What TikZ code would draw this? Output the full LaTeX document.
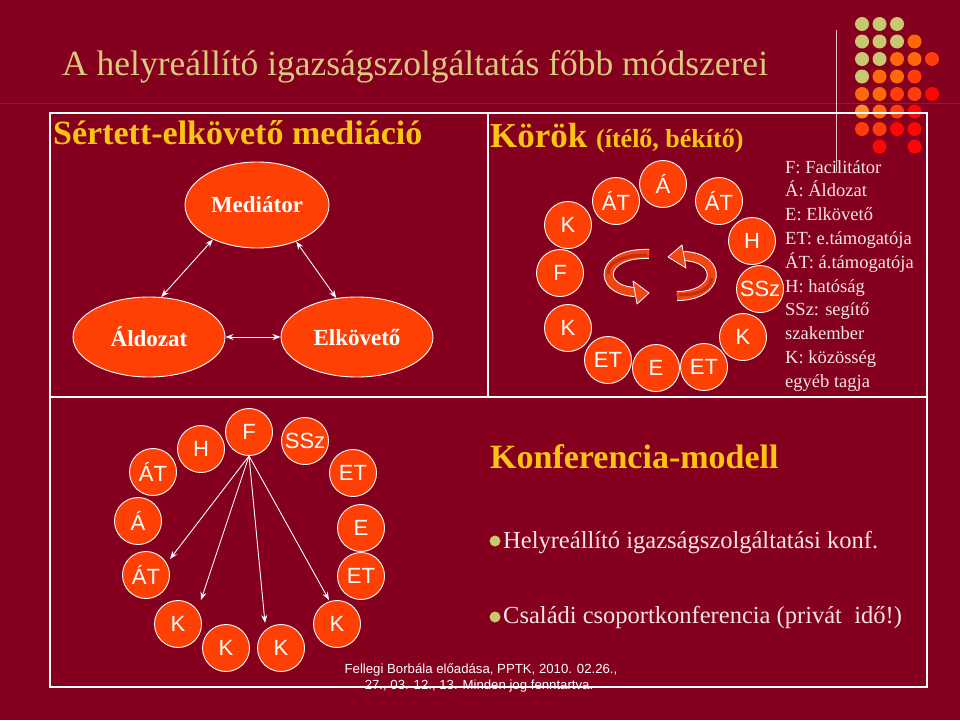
\documentclass[tikz,border=0pt]{standalone}
\usepackage{fontspec}
\setmainfont{Liberation Serif}
\newfontfamily\arialf{Liberation Sans}
\usetikzlibrary{arrows.meta,shapes.geometric}
\definecolor{bg}{RGB}{132,0,30}
\definecolor{khaki}{RGB}{218,202,125}
\definecolor{gold}{RGB}{250,196,20}
\definecolor{circ}{RGB}{255,64,5}
\definecolor{pinkw}{RGB}{245,230,230}
\definecolor{dG}{RGB}{200,200,112}
\definecolor{dO}{RGB}{255,104,10}
\definecolor{dL}{RGB}{255,140,40}
\definecolor{dR}{RGB}{255,60,10}
\definecolor{dD}{RGB}{250,8,8}
\definecolor{ribbon}{RGB}{240,70,20}
\definecolor{ribbondark}{RGB}{200,45,10}
\definecolor{faint}{RGB}{150,24,48}
\definecolor{vline}{RGB}{225,195,200}
\begin{document}
\begin{tikzpicture}[x=1pt,y=-1pt,
  lt/.style={circle, fill=circ, draw=white, line width=0.9pt, minimum size=47pt, inner sep=0pt, text=white, font=\arialf\fontsize{22}{22}\selectfont},
  ell/.style={ellipse, fill=circ, draw=white, line width=0.9pt, inner sep=0pt, text=white, font=\bfseries\fontsize{23}{23}\selectfont},
  dot/.style={circle, inner sep=0pt, minimum size=14pt},
  wa/.style={white, line width=0.9pt, -{Stealth[length=8pt,width=6pt]}},
  dwa/.style={white, line width=0.9pt, {Stealth[length=8pt,width=6pt]}-{Stealth[length=8pt,width=6pt]}},
  framel/.style={white, line width=2pt},
  leg/.style={text=pinkw, font=\fontsize{18.5}{20}\selectfont, anchor=base west, inner sep=0pt},
  ribbonline/.style={ribbon, line width=8pt},
  ribbonedge/.style={white, line width=10pt},
  ribbonhead/.style={fill=ribbon, draw=white, line width=0.8pt, line join=round},
]
\fill[bg] (0,0) rectangle (960,720);
\useasboundingbox (0,0) rectangle (960,720);

% slide decorations
\draw[faint, line width=0.8pt] (0,103) -- (960,103);
% dots
\foreach \c/\r/\col in {1/1/dG,2/1/dG,3/1/dG,
  1/2/dG,2/2/dG,3/2/dG,4/2/dO,
  1/3/dG,2/3/dG,3/3/dO,4/3/dO,5/3/dR,
  1/4/dG,2/4/dO,3/4/dO,4/4/dR,
  1/5/dO,2/5/dO,3/5/dR,4/5/dR,5/5/dD,
  1/6/dL,2/6/dO,3/6/dR,4/6/dD,
  1/7/dR,2/7/dR,3/7/dD,4/7/dD,
  2/8/dD,4/8/dD}
  \node[dot, fill=\col] (dot\c\r) at ({844.5+17.5*\c},{6.5+17.5*\r}) {};
\draw[vline, line width=0.7pt] (836,30) -- (836,172);

% title
\node[anchor=base west, inner sep=0pt, text=khaki, font=\fontsize{35.5}{36}\selectfont] (title) at (62,75) {A helyreállító igazságszolgáltatás főbb módszerei};

% frame
\draw[framel] (50,113) rectangle (927,687);
\draw[framel] (488,113) -- (488,397);
\draw[framel] (50,397) -- (927,397);

% ---------- mediation ----------
\node[anchor=base west, inner sep=0pt, text=gold, font=\bfseries\fontsize{34}{34}\selectfont] (medhead) at (53,144) {Sértett-elkövető mediáció};
\node[ell, minimum width=144pt, minimum height=86pt] (med) at (257,205) {Mediátor};
\node[ell, minimum width=152pt, minimum height=80pt] (ald) at (149,337) {Áldozat};
\node[ell, minimum width=152pt, minimum height=80pt] (elk) at (357,337) {Elkövető};
\draw[dwa] (ald.73) -- (med.218);
\draw[dwa] (med.317) -- (elk.118);
\draw[dwa] (ald.east) -- (elk.west);

% ---------- circles ----------
\node[anchor=base west, inner sep=0pt, text=gold, font=\bfseries\fontsize{35}{35}\selectfont] (korhead) at (490,147) {Körök {\fontsize{26}{26}\selectfont(ítélő, békítő)}};
\node[lt] (ka) at (663,184) {Á};
\node[lt] (kat1) at (616,201) {ÁT};
\node[lt] (kat2) at (719,201) {ÁT};
\node[lt] (kk1) at (568,225) {K};
\node[lt] (kh) at (752,241) {H};
\node[lt] (kf) at (560,273) {F};
\node[lt] (kk2) at (568,328) {K};
\node[lt] (kk3) at (743,337) {K};
\node[lt] (ket1) at (608,360) {ET};
\node[lt] (ke) at (656,368) {E};
\node[lt] (ket2) at (704,367) {ET};
\node[lt] (kssz) at (760,289) {SSz};

% rotating ribbons
\draw[ribbonedge] (649,254) .. controls (600,252) and (596,290) .. (635,292);
\draw[ribbonline] (649,254) .. controls (600,252) and (596,290) .. (635,292);
\draw[ribbondark, line width=3pt] (647,255) .. controls (612,255) and (606,270) .. (609,274);
\filldraw[ribbonhead] (633,281) -- (649,293) -- (637,304) -- cycle;
\draw[ribbonedge] (677,296) .. controls (720,296) and (724,258) .. (684,256);
\draw[ribbonline] (677,296) .. controls (720,296) and (724,258) .. (684,256);
\draw[ribbondark, line width=3pt] (679,295) .. controls (708,295) and (712,282) .. (711,278);
\filldraw[ribbonhead] (682,245) -- (668,257) -- (686,268) -- cycle;

% legend
\foreach \t [count=\i from 0] in {F: Facilitátor, Á: Áldozat, E: Elkövető, ET: e.támogatója, ÁT: á.támogatója, H: hatóság, SSz: segítő, szakember, K: közösség, egyéb tagja}
  \node[leg] (lg\i) at (785,{173+23.8*\i}) {\t};

% ---------- conference ----------
\node[lt] (bf) at (249,432) {F};
\node[lt] (bh) at (201,449) {H};
\node[lt] (bssz) at (305,441) {SSz};
\node[lt] (bat1) at (153,472) {ÁT};
\node[lt] (bet1) at (353,473) {ET};
\node[lt] (ba) at (138,521) {Á};
\node[lt] (be) at (361,528) {E};
\node[lt] (bat2) at (146,575) {ÁT};
\node[lt] (bet2) at (361,576) {ET};
\node[lt] (bk1) at (178,624) {K};
\node[lt] (bk2) at (226,648) {K};
\node[lt] (bk3) at (281,648) {K};
\node[lt] (bk4) at (337,624) {K};
\coordinate (e1) at (170,559);
\coordinate (e2) at (201,600);
\coordinate (e3) at (265,623);
\coordinate (e4) at (329,600);
\draw[wa] (bf.south) -- (e1);
\draw[wa] (bf.south) -- (e2);
\draw[wa] (bf.south) -- (e3);
\draw[wa] (bf.south) -- (e4);

\node[anchor=base west, inner sep=0pt, text=gold, font=\bfseries\fontsize{34}{34}\selectfont] (konfhead) at (490,468) {Konferencia-modell};
\fill[dG] (495,541) circle (5.5pt);
\node[anchor=base west, inner sep=0pt, text=pinkw, font=\fontsize{24.5}{25}\selectfont] (b1) at (503,548) {Helyreállító igazságszolgáltatási konf.};
\fill[dG] (495,617) circle (5.5pt);
\node[anchor=base west, inner sep=0pt, text=pinkw, font=\fontsize{24.5}{25}\selectfont] (b2) at (503,623) {Családi csoportkonferencia (privát\ \ idő!)};

% footer
\node[anchor=base, inner sep=0pt, text=white, font=\arialf\fontsize{13.2}{14}\selectfont] (f1) at (481,673) {Fellegi Borbála előadása, PPTK, 2010. 02.26.,};
\node[anchor=base, inner sep=0pt, text=white, font=\arialf\fontsize{13.2}{14}\selectfont] (f2) at (479,689) {27., 03. 12., 13. Minden jog fenntartva.};
\draw[white, line width=2pt] (50,687) -- (927,687);
\end{tikzpicture}
\end{document}
